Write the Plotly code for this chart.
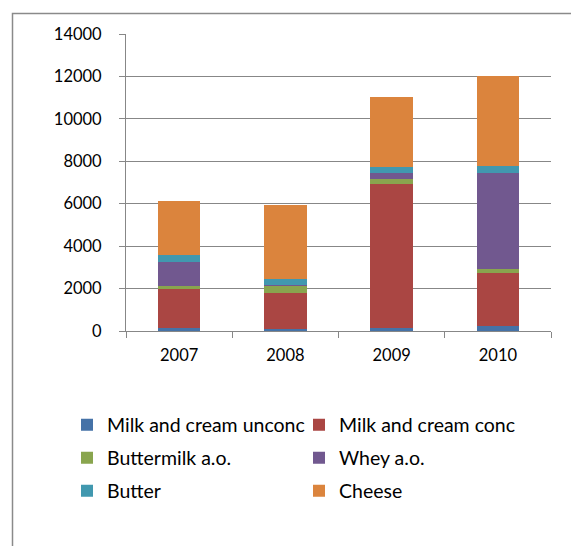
import plotly.graph_objects as go

years = ["2007", "2008", "2009", "2010"]
milk_unconc = [140, 90, 125, 250]
milk_conc = [1820, 1720, 6790, 2470]
buttermilk = [160, 320, 250, 190]
whey = [1140, 30, 300, 4540]
butter = [330, 270, 250, 310]
cheese = [2560, 3500, 3330, 4270]

series = [
    ("Milk and cream unconc", milk_unconc, "#4572A7", "legend"),
    ("Milk and cream conc", milk_conc, "#AA4643", "legend"),
    ("Buttermilk a.o.", buttermilk, "#89A54E", "legend2"),
    ("Whey a.o.", whey, "#71588F", "legend2"),
    ("Butter", butter, "#4198AF", "legend3"),
    ("Cheese", cheese, "#DB843D", "legend3"),
]

W, H = 571, 546
L, R, T, B = 126, 20, 34, 215
pw, ph = W - L - R, H - T - B

def px_x(p):
    return (p - L) / pw

def px_y(p):
    return (H - B - p) / ph

fig = go.Figure()
for name, vals, color, lg in series:
    fig.add_trace(go.Bar(
        x=years, y=vals, name=name, legend=lg,
        marker=dict(color=color, line=dict(width=0)),
    ))

font = dict(family="Lato, 'Open Sans', sans-serif", size=16.5, color="#000000")
legfont = dict(family="Lato, 'Open Sans', sans-serif", size=19.5, color="#000000")
grid = "#878787"

leg_common = dict(orientation="h", xanchor="left", yanchor="middle",
                  x=px_x(67), font=legfont, entrywidth=187,
                  bgcolor="rgba(0,0,0,0)", borderwidth=0, traceorder="normal")

fig.update_layout(
    width=W, height=H,
    margin=dict(l=L, r=R, t=T, b=B, pad=0),
    barmode="stack", bargap=0.6,
    plot_bgcolor="white", paper_bgcolor="white",
    font=font,
    showlegend=True,
    legend=dict(y=px_y(425), **leg_common),
    legend2=dict(y=px_y(458), **leg_common),
    legend3=dict(y=px_y(491), **leg_common),
    xaxis=dict(
        type="category", showgrid=False, showline=True, linecolor=grid, linewidth=1,
        ticks="outside", tickson="boundaries", ticklen=6, tickcolor=grid, tickwidth=1,
        tickfont=font, ticklabelstandoff=9,
    ),
    yaxis=dict(
        range=[0, 14000], tickvals=[0, 2000, 4000, 6000, 8000, 10000, 12000, 14000],
        ticktext=["0", "2000", "4000", "6000", "8000", "10000", "12000", "14000"],
        showgrid=True, gridcolor=grid, gridwidth=1, zeroline=False,
        showline=True, linecolor=grid, linewidth=1,
        ticks="outside", ticklen=6, tickcolor=grid, tickwidth=1,
        tickfont=font, ticklabelstandoff=14,
    ),
    shapes=[dict(
        type="rect", xref="paper", yref="paper",
        x0=px_x(12.5), x1=px_x(700), y0=px_y(13.5), y1=px_y(700),
        line=dict(color="#8a8a8a", width=1.5), fillcolor="rgba(0,0,0,0)", layer="below",
    )],
)

fig.write_html("out.html")
